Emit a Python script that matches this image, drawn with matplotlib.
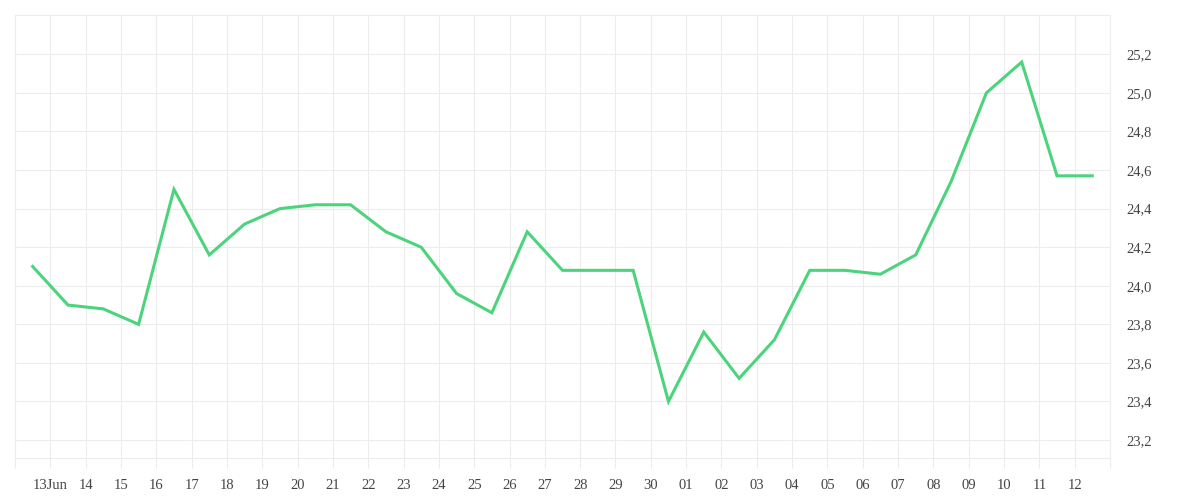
import matplotlib
matplotlib.use("Agg")
import matplotlib.pyplot as plt
import pandas as pd

# ---- data ----
start_day = "2024-06-12 12:00"
values = [24.10, 23.90, 23.88, 23.80, 24.50, 24.16, 24.32, 24.40, 24.42, 24.42,
          24.28, 24.20, 23.96, 23.86, 24.28, 24.08, 24.08, 24.08, 23.40, 23.76,
          23.52, 23.72, 24.08, 24.08, 24.06, 24.16, 24.54, 25.00, 25.16, 24.57,
          24.57]
tick_start = "2024-06-12"
tick_labels = ["", "13Jun", "14", "15", "16", "17", "18", "19", "20", "21", "22",
               "23", "24", "25", "26", "27", "28", "29", "30", "01", "02", "03",
               "04", "05", "06", "07", "08", "09", "10", "11", "12", ""]
y_ticks = [23.2, 23.4, 23.6, 23.8, 24.0, 24.2, 24.4, 24.6, 24.8, 25.0, 25.2]
y_labels = ["23,2", "23,4", "23,6", "23,8", "24,0", "24,2", "24,4", "24,6",
            "24,8", "25,0", "25,2"]

dates = pd.date_range(start_day, periods=len(values), freq="D")
tick_dates = pd.date_range(tick_start, periods=len(tick_labels), freq="D")

GRID = "#ececec"
TXT = "#444444"
LINE = "#4cd47c"

plt.rcParams["font.family"] = ["Liberation Serif", "DejaVu Serif"]

fig = plt.figure(figsize=(12, 5), dpi=100)
ax = fig.add_axes([15 / 1200, 1 - 458 / 500, (1110 - 15) / 1200, (458 - 15) / 500])

ax.plot(dates, values, color=LINE, lw=2.2, solid_joinstyle="miter", zorder=3)

ax.set_xlim(tick_dates[0], tick_dates[-1])
ax.set_ylim(23.107, 25.404)

ax.set_xticks(tick_dates)
ax.set_xticklabels(tick_labels)
ax.set_yticks(y_ticks)
ax.set_yticklabels(y_labels)

ax.yaxis.tick_right()
ax.tick_params(axis="y", length=0, pad=12, labelsize=10.5, labelcolor=TXT)
ax.tick_params(axis="x", length=7.2, width=0.75, color=GRID, pad=8,
               labelsize=10.5, labelcolor=TXT)

ax.grid(True, color=GRID, lw=0.75)
ax.set_axisbelow(True)
for s in ax.spines.values():
    s.set_color(GRID)
    s.set_linewidth(0.75)

fig.savefig("out.png", dpi=100, facecolor="white")
